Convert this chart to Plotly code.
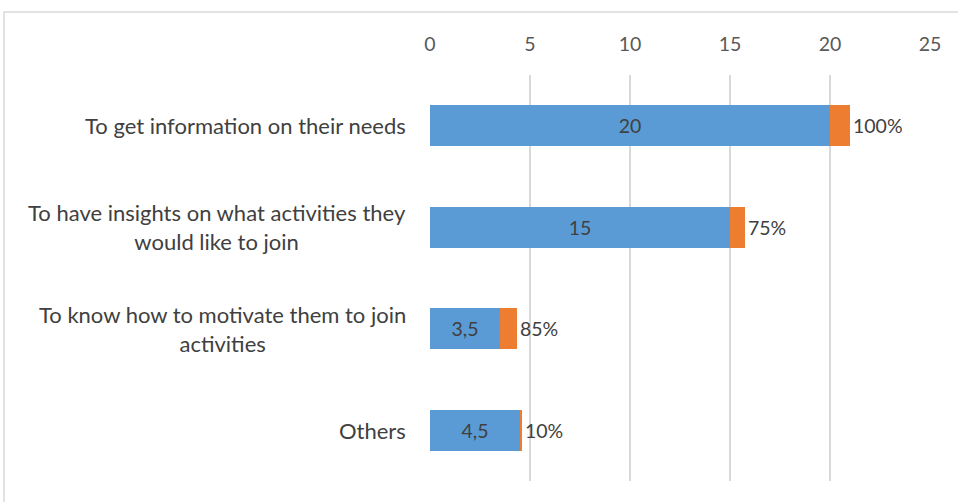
import plotly.graph_objects as go

categories = [
    "To get information on their needs",
    "To have insights on what activities they<br>would like to join",
    "To know how to motivate them to join<br>activities",
    "Others",
]
counts = [20, 15, 3.5, 4.5]
shares = [1.00, 0.75, 0.85, 0.10]
x_ticks = [0, 5, 10, 15, 20, 25]

BLUE = "#5B9BD5"
ORANGE = "#ED7D31"
FONT = "Lato, 'Open Sans', sans-serif"
TXT = "#404040"
AXIS_TXT = "#595959"
GRID = "#D9D9D9"
NUM_SIZE = 19.5
CAT_SIZE = 22


def fmt_num(v):
    return (f"{v:g}").replace(".", ",")


fig = go.Figure()
fig.add_trace(go.Bar(
    y=categories, x=counts, orientation="h",
    marker=dict(color=BLUE, line=dict(width=0)),
    text=[fmt_num(v) for v in counts],
    textposition="inside", insidetextanchor="middle",
    textfont=dict(family=FONT, size=NUM_SIZE, color=TXT),
    constraintext="none",
    width=0.4, hoverinfo="skip",
))
fig.add_trace(go.Bar(
    y=categories, x=shares, orientation="h",
    marker=dict(color=ORANGE, line=dict(width=0)),
    text=[f"{round(s * 100)}%" for s in shares],
    textposition="outside",
    textfont=dict(family=FONT, size=NUM_SIZE, color=TXT),
    constraintext="none", cliponaxis=False,
    width=0.4, hoverinfo="skip",
))

# category labels: centred lines, block right-aligned against the plot
for cat in categories:
    fig.add_annotation(
        x=0, xref="paper", y=cat, yref="y",
        text=cat, showarrow=False, xanchor="right", xshift=-22,
        align="center",
        font=dict(family=FONT, size=CAT_SIZE, color=TXT),
    )

# outer chart frame
fig.add_shape(type="rect", xref="paper", yref="paper",
              x0=-0.852, x1=1.2, y0=-0.2, y1=1.155,
              line=dict(color=GRID, width=1.5), fillcolor="rgba(0,0,0,0)")

fig.update_layout(
    width=958, height=502,
    margin=dict(l=430, r=28, t=75, b=21),
    paper_bgcolor="white", plot_bgcolor="white",
    barmode="stack", showlegend=False,
    xaxis=dict(
        side="top", range=[0, 25], tickvals=x_ticks,
        showgrid=True, gridcolor=GRID, gridwidth=1.5,
        zeroline=False, showline=False,
        ticks="outside", ticklen=15, tickcolor="rgba(0,0,0,0)",
        tickfont=dict(family=FONT, size=NUM_SIZE, color=AXIS_TXT),
    ),
    yaxis=dict(
        autorange="reversed", showticklabels=False,
        showgrid=False, zeroline=False, showline=False,
    ),
)

fig.write_html("out.html")
